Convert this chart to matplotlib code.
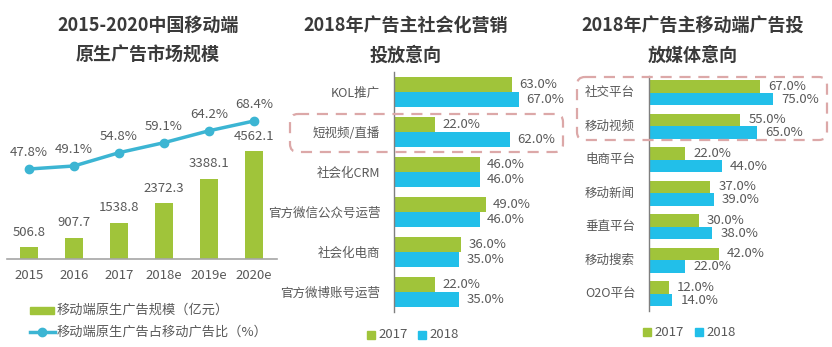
import matplotlib
matplotlib.use('Agg')
import matplotlib.pyplot as plt
from matplotlib.patches import FancyBboxPatch, Rectangle
import numpy as np

plt.rcParams['font.family'] = ['Noto Sans CJK SC', 'DejaVu Sans']

# ---- data ----
years = ['2015', '2016', '2017', '2018e', '2019e', '2020e']
market_size = [506.8, 907.7, 1538.8, 2372.3, 3388.1, 4562.1]   # 亿元
mobile_share = [47.8, 49.1, 54.8, 59.1, 64.2, 68.4]            # %

social_cats = ['KOL推广', '短视频/直播', '社会化CRM', '官方微信公众号运营', '社会化电商', '官方微博账号运营']
social_2017 = [63.0, 22.0, 46.0, 49.0, 36.0, 22.0]
social_2018 = [67.0, 62.0, 46.0, 46.0, 35.0, 35.0]

media_cats = ['社交平台', '移动视频', '电商平台', '移动新闻', '垂直平台', '移动搜索', 'O2O平台']
media_2017 = [67.0, 55.0, 22.0, 37.0, 30.0, 42.0, 12.0]
media_2018 = [75.0, 65.0, 44.0, 39.0, 38.0, 22.0, 14.0]

GREEN = '#a0c43a'
BLUE = '#22bfe9'
LINE = '#3cb5d3'
TXT = '#595959'
TITLE = '#3a3a3a'
BOX = '#dca8a8'

W, H = 832, 347
fig = plt.figure(figsize=(W / 100, H / 100), dpi=100)
fig.patch.set_facecolor('white')


def px_axes(left, top, right, bottom):
    # axes placed by pixel box (top-left origin)
    return fig.add_axes([left / W, 1 - bottom / H, (right - left) / W, (bottom - top) / H])


# ---- panel 1: market size + share ----
ax1 = px_axes(6.5, 100, 276.5, 259)
x = np.arange(len(years))
ax1.bar(x, market_size, width=0.4, color=GREEN)
ax1.set_xlim(-0.5, len(years) - 0.5)
ax1.set_ylim(0, 4562.1 * 159 / 108)
for xi, v in zip(x, market_size):
    ax1.annotate(f'{v:.1f}', (xi, v), xytext=(0, 6), textcoords='offset points',
                 ha='center', va='bottom', fontsize=9.5, color=TXT)
ax1.set_xticks(x)
ax1.set_xticklabels(years, fontsize=9.5, color=TXT)
ax1.tick_params(axis='x', length=0, pad=7)
ax1.set_yticks([])
for s in ['top', 'left', 'right']:
    ax1.spines[s].set_visible(False)
ax1.spines['bottom'].set_color('#a6a6a6')
ax1.spines['bottom'].set_linewidth(1.2)

ax1b = ax1.twinx()
ax1b.plot(x, mobile_share, color=LINE, lw=2.5, marker='o', ms=6)
ax1b.set_ylim(9.2, 77.4)
for xi, v in zip(x, mobile_share):
    ax1b.annotate(f'{v:.1f}%', (xi, v), xytext=(0, 7), textcoords='offset points',
                  ha='center', va='bottom', fontsize=9.5, color=TXT)
ax1b.set_yticks([])
ax1b.axis('off')


def hbar_panel(ax, cats, v17, v18, bar_h, val_off):
    y = np.arange(len(cats))
    ax.barh(y - bar_h / 2, v17, height=bar_h, color=GREEN)
    ax.barh(y + bar_h / 2, v18, height=bar_h, color=BLUE)
    for yi, a, b in zip(y, v17, v18):
        ax.annotate(f'{a:.1f}%', (a, yi - bar_h / 2), xytext=(val_off, 0), textcoords='offset points',
                    ha='left', va='center', fontsize=9.5, color=TXT)
        ax.annotate(f'{b:.1f}%', (b, yi + bar_h / 2), xytext=(val_off, 0), textcoords='offset points',
                    ha='left', va='center', fontsize=9.5, color=TXT)
    ax.set_xlim(0, 90)
    ax.set_ylim(len(cats) - 0.5, -0.5)
    ax.set_xticks([])
    for s in ['top', 'right', 'bottom']:
        ax.spines[s].set_visible(False)
    ax.spines['left'].set_color('#7f7f7f')
    ax.spines['left'].set_linewidth(1.0)
    return y


# ---- panel 2: social marketing ----
ax2 = px_axes(394, 72, 394 + 1.87 * 90, 312)
y2 = hbar_panel(ax2, social_cats, social_2017, social_2018, 0.375, 5)
ax2.set_yticks(y2)
ax2.set_yticklabels(social_cats, fontsize=9, color=TXT)
ax2.tick_params(axis='y', length=0, pad=10)

# ---- panel 3: mobile media ----
ax3 = px_axes(649, 76, 649 + 1.655 * 90, 310.5)
y3 = hbar_panel(ax3, media_cats, media_2017, media_2018, 0.375, 6)
ax3.set_yticks([])
for yi, c in zip(y3, media_cats):
    ax3.text((585 - 649) / (1.655 * 90), yi, c, transform=ax3.get_yaxis_transform(),
             ha='left', va='center', fontsize=9, color=TXT)

# ---- overlay: titles, legends, highlight boxes ----
ov = fig.add_axes([0, 0, 1, 1])
ov.set_xlim(0, W)
ov.set_ylim(H, 0)
ov.axis('off')

tkw = dict(ha='center', va='center', fontsize=13, fontweight='bold', color=TITLE)
ov.text(148, 25, '2015-2020中国移动端', **tkw)
ov.text(148, 55, '原生广告市场规模', **tkw)
ov.text(406, 25, '2018年广告主社会化营销', **tkw)
ov.text(406, 55, '投放意向', **tkw)
ov.text(693, 25, '2018年广告主移动端广告投', **tkw)
ov.text(693, 55, '放媒体意向', **tkw)

# panel 1 legend
ov.add_patch(Rectangle((30, 306.5), 24, 7, color=GREEN))
ov.text(57, 310, '移动端原生广告规模（亿元）', ha='left', va='center', fontsize=9.5, color=TXT)
ov.plot([30, 55], [332, 332], color=LINE, lw=2.5)
ov.plot([42], [332], marker='o', ms=6, color=LINE)
ov.text(57, 332, '移动端原生广告占移动广告比（%）', ha='left', va='center', fontsize=9.5, color=TXT)

# bar panel legends
for gx, bx, ly in [(367, 418, 335), (643, 695, 332)]:
    ov.add_patch(Rectangle((gx, ly - 4), 8, 8, color=GREEN))
    ov.text(gx + 11, ly, '2017', ha='left', va='center', fontsize=9.5, color=TXT)
    ov.add_patch(Rectangle((bx, ly - 4), 8, 8, color=BLUE))
    ov.text(bx + 11, ly, '2018', ha='left', va='center', fontsize=9.5, color=TXT)

# dashed highlight boxes
for (l, t, r, b) in [(290, 114, 563, 152), (577, 77, 827, 140)]:
    ov.add_patch(FancyBboxPatch((l + 8, t + 8), r - l - 16, b - t - 16,
                                boxstyle='round,pad=8', fill=False, ec=BOX,
                                lw=1.6, ls=(0, (5, 3.5))))

fig.savefig('out.png', dpi=100, facecolor='white')
